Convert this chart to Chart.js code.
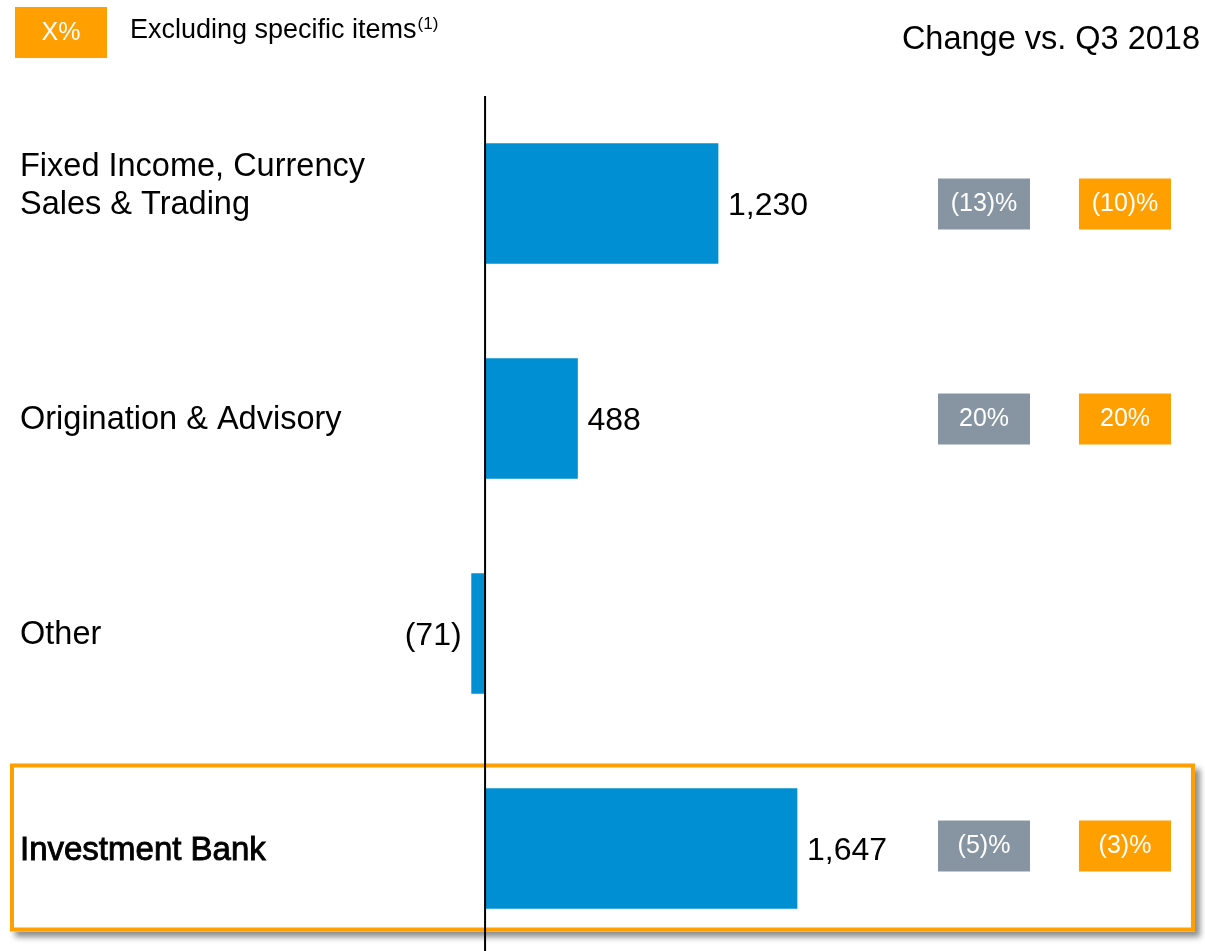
<!DOCTYPE html>
<html>
<head>
<meta charset="utf-8">
<script src="https://cdn.jsdelivr.net/npm/chart.js@4/dist/chart.umd.min.js"></script>
<style>
  html, body { margin: 0; padding: 0; background: #fff; overflow: hidden; }
  #wrap { width: 1205px; height: 956px; position: relative; }
</style>
</head>
<body>
<div id="wrap"><canvas id="myChart"></canvas></div>
<script>
var categories = [['Fixed Income, Currency', 'Sales & Trading'], ['Origination & Advisory'], ['Other'], ['Investment Bank']];
var revenues = [1230, 488, -71, 1647];
var valueLabels = ['1,230', '488', '(71)', '1,647'];
var changeReported = ['(13)%', '20%', null, '(5)%'];
var changeExcluding = ['(10)%', '20%', null, '(3)%'];
var totalIndex = 3;

var FONT = '"Liberation Sans", Arial, sans-serif';
var ORANGE = '#ff9f00';
var GREY = '#8795a2';

var annotations = {
    id: 'annotations',
    beforeDatasetsDraw: function (chart) {
        var c = chart.ctx, y = chart.scales.y;
        var yc = y.getPixelForValue(totalIndex);
        // highlight box round the total
        c.save();
        c.shadowColor = 'rgba(0,0,0,0.45)';
        c.shadowBlur = 6;
        c.shadowOffsetX = 5;
        c.shadowOffsetY = 5;
        c.fillStyle = '#fff';
        c.fillRect(10, yc - 85, 1185, 168);
        c.restore();
        c.save();
        c.strokeStyle = ORANGE;
        c.lineWidth = 4;
        c.strokeRect(12, yc - 83, 1181, 164);
        c.restore();
    },
    afterDatasetsDraw: function (chart) {
        var c = chart.ctx, x = chart.scales.x, y = chart.scales.y;
        var x0 = x.getPixelForValue(0);
        c.save();
        // zero line
        c.strokeStyle = '#000';
        c.lineWidth = 2;
        c.beginPath();
        c.moveTo(x0, chart.chartArea.top);
        c.lineTo(x0, chart.chartArea.bottom);
        c.stroke();

        c.textBaseline = 'middle';
        for (var i = 0; i < categories.length; i++) {
            var yc = y.getPixelForValue(i);
            var isTotal = i === totalIndex;
            // category label
            c.fillStyle = '#000';
            c.strokeStyle = '#000';
            c.textAlign = 'left';
            c.font = (isTotal ? '33px ' : '32.5px ') + FONT;
            var lines = categories[i];
            for (var j = 0; j < lines.length; j++) {
                var ly = yc + (j - (lines.length - 1)) * 38 + 2;
                c.fillText(lines[j], 20, ly);
                if (isTotal) {
                    c.lineWidth = 0.9;
                    c.strokeText(lines[j], 20, ly);
                }
            }
            // value label
            c.font = '32px ' + FONT;
            var xe = x.getPixelForValue(revenues[i]);
            if (revenues[i] >= 0) {
                c.textAlign = 'left';
                c.fillText(valueLabels[i], xe + 10, yc + 3);
            } else {
                c.textAlign = 'right';
                c.fillText(valueLabels[i], xe - 10, yc + 3);
            }
            // change badges
            var by = isTotal ? yc - 3 : yc;
            c.font = '25px ' + FONT;
            c.textAlign = 'center';
            if (changeReported[i]) {
                c.fillStyle = GREY;
                c.fillRect(938, by - 25, 92, 51);
                c.fillStyle = '#fff';
                c.fillText(changeReported[i], 984, by + 1);
            }
            if (changeExcluding[i]) {
                c.fillStyle = ORANGE;
                c.fillRect(1079, by - 25, 92, 51);
                c.fillStyle = '#fff';
                c.fillText(changeExcluding[i], 1125, by + 1);
            }
        }

        // legend
        c.fillStyle = ORANGE;
        c.fillRect(15, 7, 92, 51);
        c.fillStyle = '#fff';
        c.font = '25px ' + FONT;
        c.textAlign = 'center';
        c.fillText('X%', 61, 33);
        c.fillStyle = '#000';
        c.textAlign = 'left';
        c.font = '27px ' + FONT;
        c.fillText('Excluding specific items', 130, 31);
        var w = c.measureText('Excluding specific items').width;
        c.font = '17px ' + FONT;
        c.fillText('(1)', 130 + w + 1, 24);

        // title
        c.font = '32.5px ' + FONT;
        c.textAlign = 'right';
        c.fillText('Change vs. Q3 2018', 1200, 40);
        c.restore();
    }
};

var ctx = document.getElementById('myChart');
var myChart = new Chart(ctx, {
    type: 'bar',
    data: {
        labels: categories,
        datasets: [{
            data: revenues,
            backgroundColor: '#008fd2',
            borderWidth: 0,
            barThickness: 120
        }]
    },
    options: {
        indexAxis: 'y',
        responsive: true,
        maintainAspectRatio: false,
        animation: false,
        layout: { padding: { top: 96, left: 0, right: 0, bottom: 0 } },
        scales: {
            x: { display: false, min: -2561, max: 3801 },
            y: { display: false, offset: true }
        },
        plugins: {
            legend: { display: false },
            tooltip: { enabled: false }
        }
    },
    plugins: [annotations]
});
</script>
</body>
</html>
